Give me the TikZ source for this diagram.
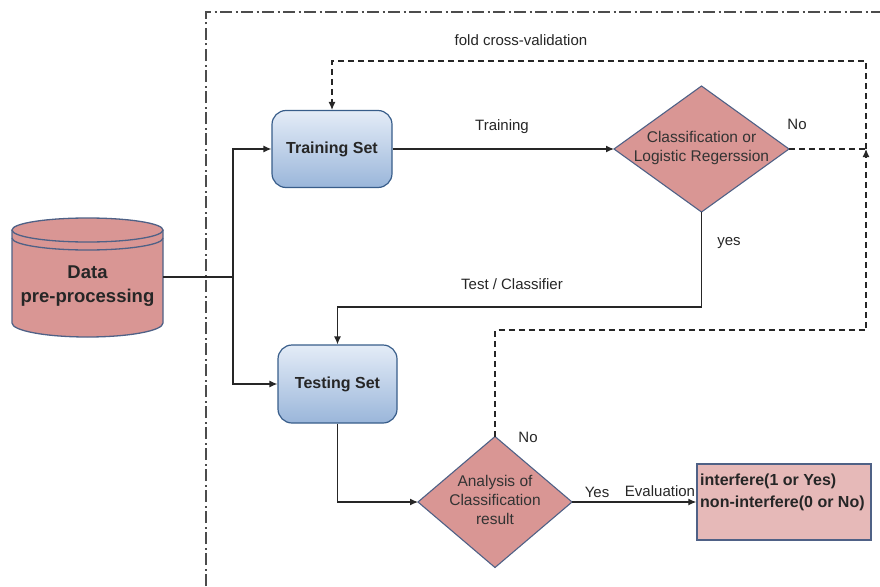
\documentclass[tikz,border=0pt]{standalone}
\usepackage{fontspec}
\setmainfont{Liberation Sans}
\usetikzlibrary{shapes.geometric,arrows.meta}
\definecolor{pinkf}{HTML}{D99694}
\definecolor{pinkl}{HTML}{E6B9B8}
\definecolor{bord}{HTML}{4F6186}
\definecolor{bluet}{HTML}{E4ECF7}
\definecolor{blueb}{HTML}{9AB6DA}
\definecolor{blueb2}{HTML}{385D8A}
\tikzset{
  arr/.style={-{Latex[length=8pt,width=7pt]}},
  ln/.style={draw=black!85,line width=1.2pt},
  dsh/.style={ln,line width=1.1pt,dash pattern=on 6pt off 4pt},
  setbox/.style={rounded corners=14pt,top color=bluet,bottom color=blueb,draw=blueb2,line width=1.2pt,
     font=\fontsize{16}{19}\selectfont\bfseries,text=black!85},
  dia/.style={diamond,fill=pinkf,draw=bord,line width=1.1pt,inner sep=0pt,outer sep=0pt},
  dtext/.style={align=center,font=\fontsize{15.5}{19}\selectfont,text=black!80},
  lab/.style={font=\fontsize{15}{18}\selectfont,text=black!85,inner sep=1pt},
}
\begin{document}
\begin{tikzpicture}[x=1pt,y=1pt]
\useasboundingbox (0,0) rectangle (880,-586);
% frame
\draw[black!70,line width=1.3pt,dash pattern=on 12pt off 3.5pt on 2pt off 3.5pt] (206,-586) -- (206,-12) -- (880,-12);
% cylinder
\fill[pinkf] (12,-230) -- (12,-323) arc[start angle=180,end angle=360,x radius=75.5,y radius=14] -- (163,-230) -- cycle;
\fill[pinkf] (87.5,-230) ellipse[x radius=75.5,y radius=12];
\draw[bord,line width=1.3pt] (12,-230) -- (12,-323) arc[start angle=180,end angle=360,x radius=75.5,y radius=14] -- (163,-230);
\draw[bord,line width=1.3pt] (87.5,-230) ellipse[x radius=75.5,y radius=12];
\draw[bord,line width=1.3pt] (12,-238) arc[start angle=180,end angle=360,x radius=75.5,y radius=12];
\node[align=center,font=\fontsize{18.5}{24}\selectfont\bfseries,text=black!85] (data) at (87.5,-286) {Data\\pre-processing};
\coordinate (cylR) at (163,-277);
\coordinate (split) at (233,-277);
% sets
\node[setbox,minimum width=120pt,minimum height=77pt] (train) at (332,-149) {Training Set};
\node[setbox,minimum width=119pt,minimum height=78pt] (test) at (337.5,-384) {Testing Set};
% diamonds
\node[dia,minimum width=175pt,minimum height=126pt] (d1) at (701.5,-149) {};
\node[dtext] (d1t) at (701.5,-148) {Classification or\\Logistic Regerssion};
\node[dia,minimum width=154pt,minimum height=131pt] (d2) at (495,-502) {};
\node[dtext] (d2t) at (495,-500) {Analysis of\\Classification\\result};
% result
\node[draw=bord,fill=pinkl,line width=1.4pt,minimum width=174pt,minimum height=76pt] (res) at (784,-502) {};
\node[anchor=north west,align=left,inner sep=0pt,font=\fontsize{16}{22}\selectfont\bfseries,text=black!85] (rest) at (700,-474) {interfere(1 or Yes)\\non-interfere(0 or No)};
% coordinates for dashed loop
\coordinate (c1) at (866,-330);
\coordinate (c2) at (866,-149);
\coordinate (c3) at (866,-61);
% connectors
\draw[ln] (cylR) -- (split);
\draw[ln,arr] (split) |- (train.west);
\draw[ln,arr] (split) |- (test.west);
\draw[ln,arr] (train.east) -- (d1.west);
\draw[ln,arr] (d1.south) -- (d1.south |- 0,-307) -| (test.north);
\draw[ln,arr] (test.south) |- (d2.west);
\draw[ln,arr] (d2.east) -- (res.west);
\draw[dsh,arr] (d2.north) |- (c1) -- (c2);
\draw[dsh] (d1.east) -- (c2);
\draw[dsh,arr] (c2) -- (c3) -| (train.north);
% labels
\node[lab] (lfold) at (521,-40) {fold cross-validation};
\node[lab] (ltrain) at (502,-127) {Training};
\node[lab] (lno1) at (797,-124) {No};
\node[lab] (lyes1) at (729,-243) {yes};
\node[lab] (ltest) at (512,-284) {Test / Classifier};
\node[lab] (lno2) at (528,-437) {No};
\node[lab] (lyes2) at (597,-492) {Yes};
\node[lab] (leval) at (660,-491) {Evaluation};
\end{tikzpicture}
\end{document}
